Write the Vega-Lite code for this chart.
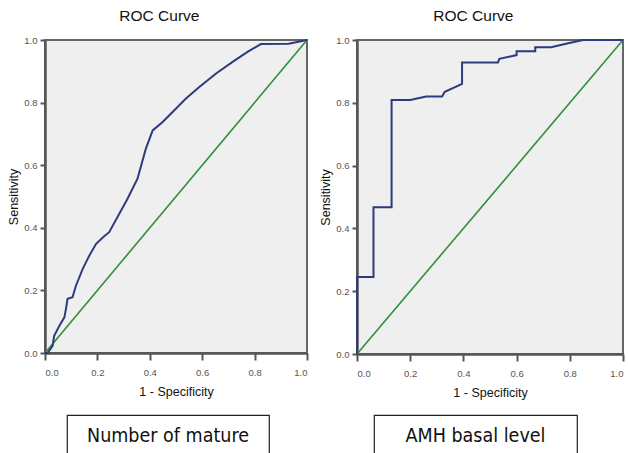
{
  "$schema": "https://vega.github.io/schema/vega-lite/v6.json",
  "padding": {"left": 6, "top": 7, "right": 0, "bottom": 0},
  "background": "white",
  "datasets": {
    "mature": [
      {"k": 0, "fpr": 0, "tpr": 0},
      {"k": 1, "fpr": 0.01, "tpr": 0.0},
      {"k": 2, "fpr": 0.029, "tpr": 0.023},
      {"k": 3, "fpr": 0.035, "tpr": 0.055},
      {"k": 4, "fpr": 0.055, "tpr": 0.087},
      {"k": 5, "fpr": 0.074, "tpr": 0.114},
      {"k": 6, "fpr": 0.08, "tpr": 0.141},
      {"k": 7, "fpr": 0.086, "tpr": 0.173},
      {"k": 8, "fpr": 0.105, "tpr": 0.178},
      {"k": 9, "fpr": 0.118, "tpr": 0.215},
      {"k": 10, "fpr": 0.144, "tpr": 0.269},
      {"k": 11, "fpr": 0.169, "tpr": 0.311},
      {"k": 12, "fpr": 0.195, "tpr": 0.349},
      {"k": 13, "fpr": 0.226, "tpr": 0.373},
      {"k": 14, "fpr": 0.245, "tpr": 0.386},
      {"k": 15, "fpr": 0.315, "tpr": 0.493},
      {"k": 16, "fpr": 0.353, "tpr": 0.557},
      {"k": 17, "fpr": 0.385, "tpr": 0.653},
      {"k": 18, "fpr": 0.411, "tpr": 0.711},
      {"k": 19, "fpr": 0.449, "tpr": 0.738},
      {"k": 20, "fpr": 0.487, "tpr": 0.77},
      {"k": 21, "fpr": 0.538, "tpr": 0.813},
      {"k": 22, "fpr": 0.589, "tpr": 0.85},
      {"k": 23, "fpr": 0.653, "tpr": 0.893},
      {"k": 24, "fpr": 0.716, "tpr": 0.93},
      {"k": 25, "fpr": 0.773, "tpr": 0.962},
      {"k": 26, "fpr": 0.824, "tpr": 0.987},
      {"k": 27, "fpr": 0.93, "tpr": 0.988},
      {"k": 28, "fpr": 1, "tpr": 1}
    ],
    "amh": [
      {"k": 0, "fpr": 0, "tpr": 0},
      {"k": 1, "fpr": 0, "tpr": 0.245},
      {"k": 2, "fpr": 0.062, "tpr": 0.245},
      {"k": 3, "fpr": 0.062, "tpr": 0.467},
      {"k": 4, "fpr": 0.13, "tpr": 0.467},
      {"k": 5, "fpr": 0.13, "tpr": 0.809},
      {"k": 6, "fpr": 0.2, "tpr": 0.809},
      {"k": 7, "fpr": 0.26, "tpr": 0.82},
      {"k": 8, "fpr": 0.32, "tpr": 0.82},
      {"k": 9, "fpr": 0.33, "tpr": 0.835},
      {"k": 10, "fpr": 0.395, "tpr": 0.86},
      {"k": 11, "fpr": 0.395, "tpr": 0.928},
      {"k": 12, "fpr": 0.53, "tpr": 0.928},
      {"k": 13, "fpr": 0.535, "tpr": 0.94},
      {"k": 14, "fpr": 0.6, "tpr": 0.952},
      {"k": 15, "fpr": 0.6, "tpr": 0.964},
      {"k": 16, "fpr": 0.67, "tpr": 0.964},
      {"k": 17, "fpr": 0.67, "tpr": 0.977},
      {"k": 18, "fpr": 0.73, "tpr": 0.977},
      {"k": 19, "fpr": 0.79, "tpr": 0.989},
      {"k": 20, "fpr": 0.85, "tpr": 1},
      {"k": 21, "fpr": 1, "tpr": 1}
    ],
    "diag": [{"k": 0, "fpr": 0, "tpr": 0}, {"k": 1, "fpr": 1, "tpr": 1}]
  },
  "vconcat": [
    {
      "hconcat": [
        {
          "width": 262,
          "height": 313,
          "title": "ROC Curve",
          "layer": [
            {
              "data": {"name": "diag"},
              "mark": {"type": "line", "color": "#2f8f3c", "strokeWidth": 1.6},
              "encoding": {
                "x": {"field": "fpr", "type": "quantitative", "scale": {"domain": [0, 1], "nice": false}, "axis": {"title": "1 - Specificity", "values": [0, 0.2, 0.4, 0.6, 0.8, 1], "format": ".1f"}},
                "y": {"field": "tpr", "type": "quantitative", "scale": {"domain": [0, 1], "nice": false}, "axis": {"title": "Sensitivity", "values": [0, 0.2, 0.4, 0.6, 0.8, 1], "format": ".1f"}},
                "order": {"field": "k"}
              }
            },
            {
              "data": {"name": "mature"},
              "mark": {"type": "line", "color": "#2e3a7e", "strokeWidth": 2},
              "encoding": {
                "x": {"field": "fpr", "type": "quantitative"},
                "y": {"field": "tpr", "type": "quantitative"},
                "order": {"field": "k"}
              }
            }
          ]
        },
        {
          "width": 266,
          "height": 314,
          "title": "ROC Curve",
          "layer": [
            {
              "data": {"name": "diag"},
              "mark": {"type": "line", "color": "#2f8f3c", "strokeWidth": 1.6},
              "encoding": {
                "x": {"field": "fpr", "type": "quantitative", "scale": {"domain": [0, 1], "nice": false}, "axis": {"title": "1 - Specificity", "values": [0, 0.2, 0.4, 0.6, 0.8, 1], "format": ".1f"}},
                "y": {"field": "tpr", "type": "quantitative", "scale": {"domain": [0, 1], "nice": false}, "axis": {"title": "Sensitivity", "values": [0, 0.2, 0.4, 0.6, 0.8, 1], "format": ".1f"}},
                "order": {"field": "k"}
              }
            },
            {
              "data": {"name": "amh"},
              "mark": {"type": "line", "color": "#2e3a7e", "strokeWidth": 2},
              "encoding": {
                "x": {"field": "fpr", "type": "quantitative"},
                "y": {"field": "tpr", "type": "quantitative"},
                "order": {"field": "k"}
              }
            }
          ]
        }
      ],
      "spacing": 50,
      "bounds": "flush"
    },
    {
      "hconcat": [
        {
          "width": 22,
          "height": 42,
          "data": {"values": [{"label": ""}]},
          "mark": {"type": "text"},
          "encoding": {"text": {"field": "label"}},
          "view": {"stroke": "transparent", "fill": "transparent"}
        },
        {
          "width": 202,
          "height": 42,
          "data": {"values": [{"label": "Number of mature"}]},
          "mark": {"type": "text", "font": "DejaVu Sans Condensed", "fontSize": 19.5, "color": "#111", "baseline": "middle", "dy": 0},
          "encoding": {"text": {"field": "label"}},
          "view": {"stroke": "#222", "strokeWidth": 1.2, "fill": "white"}
        },
        {
          "width": 105,
          "height": 42,
          "data": {"values": [{"label": ""}]},
          "mark": {"type": "text"},
          "encoding": {"text": {"field": "label"}},
          "view": {"stroke": "transparent", "fill": "transparent"}
        },
        {
          "width": 203,
          "height": 42,
          "data": {"values": [{"label": "AMH basal level"}]},
          "mark": {"type": "text", "font": "DejaVu Sans Condensed", "fontSize": 19.5, "color": "#111", "baseline": "middle", "dy": 0},
          "encoding": {"text": {"field": "label"}},
          "view": {"stroke": "#222", "strokeWidth": 1.2, "fill": "white"}
        }
      ],
      "spacing": 0,
      "bounds": "flush"
    }
  ],
  "spacing": 14,
  "config": {
    "font": "Liberation Sans",
    "view": {"fill": "#efefef", "stroke": "#666", "strokeWidth": 2},
    "axis": {
      "domainColor": "#555",
      "domainWidth": 2.5,
      "tickColor": "#555",
      "tickWidth": 2,
      "grid": false,
      "labelFontSize": 9.5,
      "labelColor": "#555",
      "titleFontSize": 12.5,
      "titleFontWeight": "normal",
      "titleColor": "#111"
    },
    "axisX": {"tickSize": 7, "labelPadding": 7, "titlePadding": 9},
    "axisY": {"tickSize": 5, "labelPadding": 3, "titlePadding": 3},
    "title": {"fontSize": 15.5, "fontWeight": "normal", "frame": "bounds", "anchor": "middle", "offset": 11, "color": "#111"}
  }
}
